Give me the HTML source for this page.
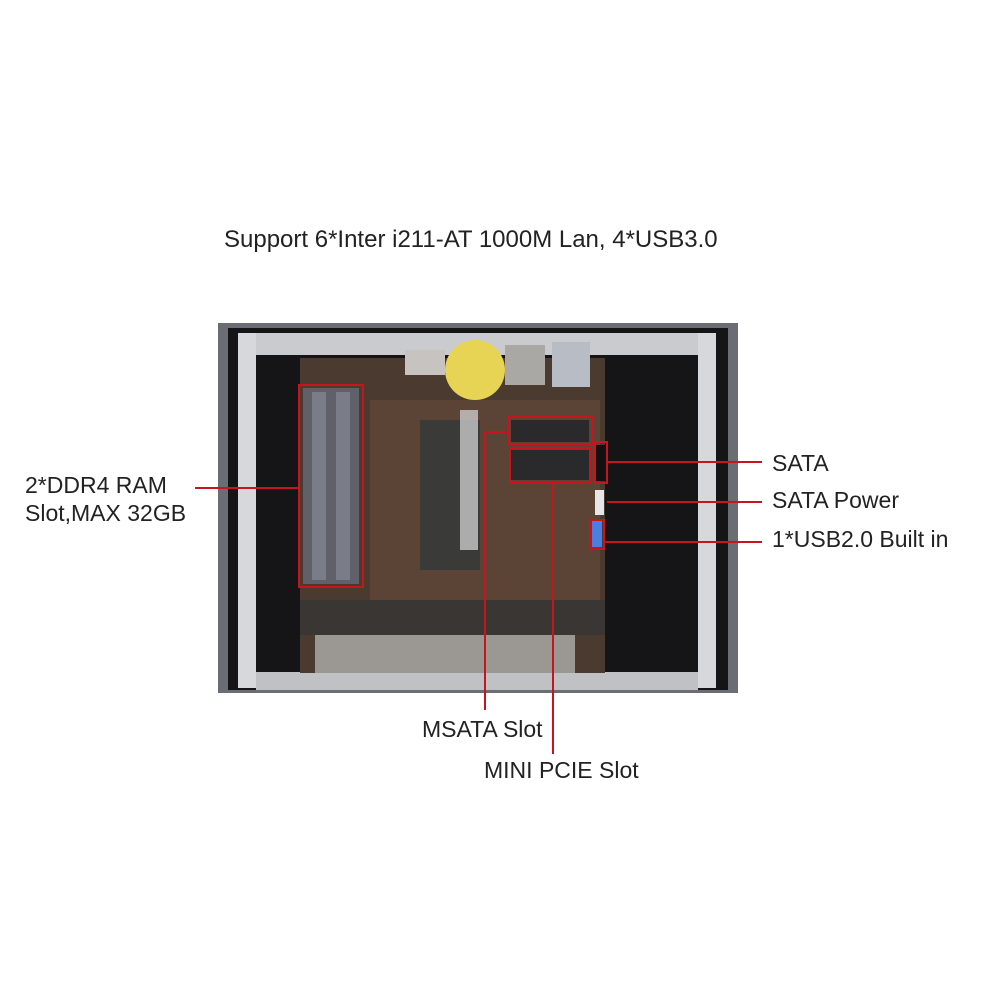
<!DOCTYPE html>
<html><head><style>
body{margin:0;width:1000px;height:1000px;background:#fff;position:relative;overflow:hidden;font-family:"Liberation Sans",sans-serif;color:#222}
div{position:absolute}
.t{font-size:23px;white-space:nowrap;line-height:1}
.r{background:#c8141e}
.b{border:2px solid #c8141e;box-sizing:border-box}
</style></head><body>
<div class="t" style="left:224px;top:228px;font-size:24px">Support 6*Inter i211-AT 1000M Lan, 4*USB3.0</div>

<!-- case -->
<div style="left:218px;top:323px;width:520px;height:370px;background:#6a6d74"></div>
<div style="left:228px;top:328px;width:500px;height:362px;background:#151518"></div>
<div style="left:238px;top:333px;width:18px;height:355px;background:#d6d8dc"></div>
<div style="left:698px;top:333px;width:18px;height:355px;background:#d6d8dc"></div>
<div style="left:256px;top:333px;width:442px;height:22px;background:#c9cbcf"></div>
<div style="left:256px;top:672px;width:442px;height:18px;background:#bfc1c4"></div>
<!-- board -->
<div style="left:300px;top:358px;width:305px;height:315px;background:#4a3a30"></div>
<div style="left:370px;top:400px;width:230px;height:200px;background:#5b4336"></div>
<div style="left:420px;top:420px;width:60px;height:150px;background:#3a3a38"></div>
<div style="left:303px;top:388px;width:56px;height:196px;background:#5f6068"></div>
<div style="left:312px;top:392px;width:14px;height:188px;background:#7a7d88"></div>
<div style="left:336px;top:392px;width:14px;height:188px;background:#7a7d88"></div>
<div style="left:511px;top:420px;width:78px;height:22px;background:#2a2a2c"></div>
<div style="left:511px;top:450px;width:78px;height:30px;background:#2a2a2c"></div>
<div style="left:596px;top:445px;width:9px;height:36px;background:#111"></div>
<div style="left:592px;top:521px;width:10px;height:26px;background:#4a7fe0"></div>
<div style="left:595px;top:490px;width:9px;height:25px;background:#e6e6e6"></div>
<div style="left:300px;top:600px;width:305px;height:35px;background:#3a3634"></div>
<div style="left:315px;top:635px;width:260px;height:38px;background:#9b9894"></div>
<div style="left:445px;top:340px;width:60px;height:60px;border-radius:50%;background:#e7d455"></div>
<div style="left:405px;top:350px;width:40px;height:25px;background:#c6c3c0"></div>
<div style="left:505px;top:345px;width:40px;height:40px;background:#a9a8a5"></div>
<div style="left:552px;top:342px;width:38px;height:45px;background:#b8bcc4"></div>
<div style="left:460px;top:410px;width:18px;height:140px;background:#c9c9c9;opacity:.8"></div>

<!-- red boxes -->
<div class="b" style="left:298px;top:384px;width:66px;height:204px"></div>
<div class="b" style="left:508px;top:416px;width:85px;height:29px"></div>
<div class="b" style="left:509px;top:447px;width:82px;height:37px"></div>
<div class="b" style="left:594px;top:441px;width:14px;height:43px"></div>
<div class="b" style="left:589px;top:519px;width:16px;height:31px"></div>

<!-- lines -->
<div class="r" style="left:195px;top:487px;width:104px;height:2px"></div>
<div class="r" style="left:607px;top:461px;width:155px;height:2px"></div>
<div class="r" style="left:607px;top:501px;width:155px;height:2px"></div>
<div class="r" style="left:604px;top:541px;width:158px;height:2px"></div>
<div class="r" style="left:485px;top:431px;width:24px;height:2px"></div>
<div class="r" style="left:484px;top:431px;width:2px;height:279px"></div>
<div class="r" style="left:552px;top:483px;width:2px;height:271px"></div>

<!-- labels -->
<div class="t" style="left:25px;top:474px">2*DDR4 RAM</div>
<div class="t" style="left:25px;top:502px">Slot,MAX 32GB</div>
<div class="t" style="left:772px;top:452px">SATA</div>
<div class="t" style="left:772px;top:489px">SATA Power</div>
<div class="t" style="left:772px;top:528px">1*USB2.0 Built in</div>
<div class="t" style="left:422px;top:718px">MSATA Slot</div>
<div class="t" style="left:484px;top:759px">MINI PCIE Slot</div>
</body></html>
